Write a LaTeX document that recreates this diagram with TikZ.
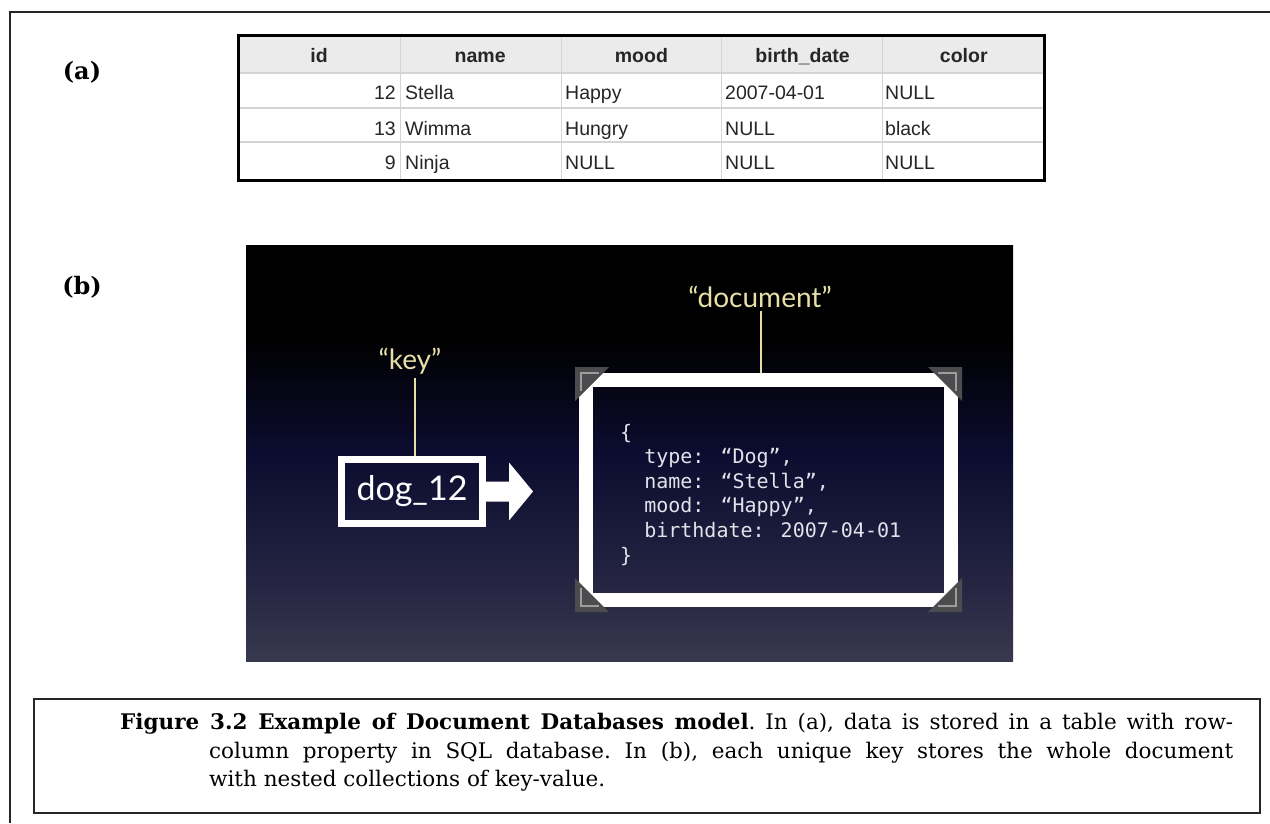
\documentclass[tikz,border=0pt]{standalone}
\usepackage{fontspec}
\setmainfont{DejaVu Serif}
\newfontfamily\tabfont{Liberation Sans}
\newfontfamily\slidefont{Lato}
\newfontfamily\codefont{DejaVu Sans Mono}
\usetikzlibrary{calc,positioning}
\definecolor{slidemid}{HTML}{0C0C30}
\definecolor{slidelow}{HTML}{20203F}
\definecolor{slidebot}{HTML}{38384F}
\definecolor{labelyellow}{HTML}{E6DFA6}
\definecolor{codegray}{HTML}{E2E2EA}
\definecolor{cornergray}{HTML}{4C4C4E}
\definecolor{headgray}{HTML}{EBEBEB}
\definecolor{gridgray}{HTML}{D4D4D4}
\pgfdeclareverticalshading{slideshade}{100bp}{color(0bp)=(slidebot); color(25bp)=(slidebot); color(37bp)=(slidelow); color(50bp)=(slidemid); color(64bp)=(black); color(100bp)=(black)}

\begin{document}
\begin{tikzpicture}[>=latex,x=1pt,y=-1pt,
    panel/.style={font=\bfseries\fontsize{24}{24}\selectfont},
    tabhead/.style={font=\tabfont\bfseries\fontsize{19.5}{19.5}\selectfont,text=black!85,anchor=base,inner sep=0pt},
    tabcell/.style={font=\tabfont\fontsize{19.5}{19.5}\selectfont,text=black!85,inner sep=0pt},
    slidelabel/.style={font=\slidefont\fontsize{28}{28}\selectfont,text=labelyellow},
    labelline/.style={draw=labelyellow,line width=1.5pt},
    keybox/.style={draw=white,line width=7pt,minimum width=141pt,minimum height=64pt,inner sep=0pt,text=white,font=\slidefont\fontsize{34}{34}\selectfont},
    docframe/.style={draw=white,line width=14pt,minimum width=365pt,minimum height=220pt,inner sep=0pt},
    codeline/.style={font=\codefont\fontsize{20}{20}\selectfont,text=codegray,anchor=base west,inner sep=0pt}]
    \useasboundingbox[fill=white] (0,0) rectangle (1270,823);
    \draw[line width=2pt,black!85] (10,823) -- (10,12) -- (1270,12);
    \node[panel] (panela) at (82,72) {(a)};
    \node[panel] (panelb) at (82,287) {(b)};
    % table
    \fill[headgray] (238,35) rectangle (1044,73);
    \foreach \y in {73,108,142}
    {
        \draw[gridgray,line width=1.5pt] (238,\y) -- (1044,\y);
    }
    \foreach \x in {400,561,721,882}
    {
        \draw[gridgray,line width=1pt] (\x,35) -- (\x,180);
    }
    \draw[line width=3pt] (238,35) rectangle (1044,180);
    \foreach \c/\h in {0/id,1/name,2/mood,3/birth\_date,4/color}
    {
        \node[tabhead] (head\c) at ({319+161.2*\c},62) {\h};
    }
    \foreach \r/\y/\id/\nm/\md/\bd/\cl in {1/99/12/Stella/Happy/2007-04-01/NULL,2/135/13/Wimma/Hungry/NULL/black,3/169/9/Ninja/NULL/NULL/NULL}
    {
        \node[tabcell,anchor=base east] (id\r) at (396,\y) {\id};
        \node[tabcell,anchor=base west] (name\r) at (405,\y) {\nm};
        \node[tabcell,anchor=base west] (mood\r) at (565,\y) {\md};
        \node[tabcell,anchor=base west] (birth\r) at (725,\y) {\bd};
        \node[tabcell,anchor=base west] (color\r) at (885,\y) {\cl};
    }
    % slide
    \shade[shading=slideshade] (246,245) rectangle (1013,661);
    \node[docframe] (doc) at (768.5,490) {};
    \foreach \cx/\cy/\sx/\sy in {575/367/1/1,962/367/-1/1,575/612/1/-1,962/612/-1/-1}
    {
        \begin{scope}[shift={(\cx,\cy)},xscale=\sx,yscale=\sy]
            \fill[cornergray] (0,0) -- (34,0) -- (0,34) -- cycle;
            \draw[cornergray!55!white,line width=1.5pt] (6,24) -- (6,6) -- (24,6);
        \end{scope}
    }
    \node[keybox] (key) at (412,491.5) {dog\_12};
    \fill[white] ($(key.east)+(0,-10)$) -- ++(23,0) -- ++(0,-19) -- ++(24,29) -- ++(-24,29) -- ++(0,-19) -- ++(-23,0) -- cycle;
    \node[slidelabel] (keylabel) at (410,361) {“key”};
    \node[slidelabel] (doclabel) at (760,297) {“document”};
    \draw[labelline] ([xshift=5pt]keylabel.south) -- ([xshift=3pt]key.north);
    \draw[labelline] ([xshift=1pt]doclabel.south) -- ([xshift=1pt]doclabel.south |- doc.north);
    \foreach \i/\t in {0/{\{},1/{\phantom{xx}type: “Dog”,},2/{\phantom{xx}name: “Stella”,},3/{\phantom{xx}mood: “Happy”,},4/{\phantom{xx}birthdate: 2007-04-01},5/{\}}}
    {
        \node[codeline] (code\i) at ({620},{439+24.6*\i}) {\t};
    }
    % caption
    \draw[line width=2pt,black!85] (34,699) rectangle (1260,813);
    \node[anchor=north west,inner sep=0pt,font=\fontsize{21.5}{28.5}\selectfont] (caption) at (120,713)
        {\parbox{1113pt}{\frenchspacing\noindent\hangindent=89pt\hangafter=1\textbf{Figure 3.2 Example of Document Databases model}. In (a), data is stored in a table with row-\linebreak column property in SQL database. In (b), each unique key stores the whole document\linebreak with nested collections of key-value.}};
\end{tikzpicture}
\end{document}
